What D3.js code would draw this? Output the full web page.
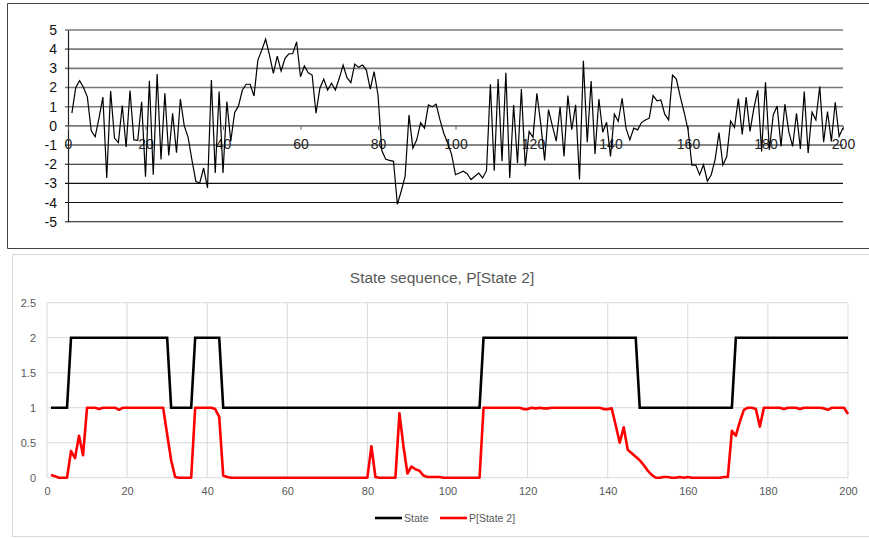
<!DOCTYPE html>
<html>
<head>
<meta charset="utf-8">
<script src="https://cdn.jsdelivr.net/npm/d3@7"></script>
<style>
  body { margin: 0; background: #fff; }
  svg { display: block; }
</style>
</head>
<body>
<svg id="chart" width="869" height="538"></svg>
<script>
"use strict";

// observed series, x = 1..200
const signal = [
  0.66, 2.0, 2.36, 2.0, 1.5, -0.26, -0.57, 0.4, 1.5, -2.72, 1.82, -0.64, -0.87, 1.06, -1.1, 1.84, -0.73, -0.75, 1.25, -2.65,
  2.35, -2.55, 2.7, -1.75, 1.7, -1.55, 0.65, -1.4, 1.4, 0.0, -0.6, -1.8, -2.9, -2.98, -2.2, -3.24, 2.39, -2.46, 1.79, -2.46,
  1.27, -0.81, 0.69, 1.04, 1.87, 2.17, 2.17, 1.56, 3.43, 3.95, 4.52, 3.69, 2.74, 3.64, 2.86, 3.52, 3.76, 3.76, 4.38, 2.56,
  3.12, 2.77, 2.65, 0.66, 1.96, 2.44, 1.87, 2.22, 1.87, 2.48, 3.17, 2.51, 2.25, 3.22, 3.05, 3.17, 2.91, 1.92, 2.83, 1.61,
  -1.3, -1.74, -1.8, -1.85, -4.1, -3.4, -2.63, 0.57, -1.16, -0.73, 0.17, -0.12, 1.09, 1.0, 1.13, 0.31, -0.4, -0.9, -1.5, -2.55,
  -2.46, -2.37, -2.5, -2.8, -2.63, -2.46, -2.72, -2.34, 2.17, -2.34, 2.44, -1.85, 2.77, -2.72, 1.09, -1.94, 1.92, -2.11, -0.29, -0.6,
  1.7, 0.1, -1.8, 0.85, 0.0, -0.8, 1.0, -1.6, 1.58, -0.2, 1.1, -2.8, 3.4, -0.85, 2.34, -1.47, 1.4, -0.33, 0.19, -1.6,
  0.61, 0.23, 1.44, -0.12, -0.73, -0.12, -0.21, 0.17, 0.31, 0.4, 1.58, 1.3, 1.35, 0.61, 0.31, 2.65, 2.44, 1.53, 0.71, -0.2,
  -2.05, -2.05, -2.55, -2.03, -2.89, -2.55, -1.75, -0.35, -2.05, -1.6, 0.25, -0.08, 1.42, -0.45, 1.5, -0.29, 0.92, 1.85, -1.33, 2.27,
  -1.25, 0.57, 1.04, -1.07, 1.13, -0.29, -1.07, 0.66, -1.2, 1.79, -1.42, 0.71, 0.31, 2.05, -0.85, 0.75, -0.81, 1.23, -0.55, -0.1
];

const state = [
  1, 1, 1, 1, 1, 2, 2, 2, 2, 2, 2, 2, 2, 2, 2, 2, 2, 2, 2, 2,
  2, 2, 2, 2, 2, 2, 2, 2, 2, 2, 1, 1, 1, 1, 1, 1, 2, 2, 2, 2,
  2, 2, 2, 1, 1, 1, 1, 1, 1, 1, 1, 1, 1, 1, 1, 1, 1, 1, 1, 1,
  1, 1, 1, 1, 1, 1, 1, 1, 1, 1, 1, 1, 1, 1, 1, 1, 1, 1, 1, 1,
  1, 1, 1, 1, 1, 1, 1, 1, 1, 1, 1, 1, 1, 1, 1, 1, 1, 1, 1, 1,
  1, 1, 1, 1, 1, 1, 1, 1, 2, 2, 2, 2, 2, 2, 2, 2, 2, 2, 2, 2,
  2, 2, 2, 2, 2, 2, 2, 2, 2, 2, 2, 2, 2, 2, 2, 2, 2, 2, 2, 2,
  2, 2, 2, 2, 2, 2, 2, 1, 1, 1, 1, 1, 1, 1, 1, 1, 1, 1, 1, 1,
  1, 1, 1, 1, 1, 1, 1, 1, 1, 1, 1, 2, 2, 2, 2, 2, 2, 2, 2, 2,
  2, 2, 2, 2, 2, 2, 2, 2, 2, 2, 2, 2, 2, 2, 2, 2, 2, 2, 2, 2
];

const pState2 = [
  0.04, 0.02, 0, 0, 0, 0.38, 0.28, 0.6, 0.32, 1, 1, 1, 0.98, 1, 1, 1, 1, 0.97, 1, 1,
  1, 1, 1, 1, 1, 1, 1, 1, 1, 0.62, 0.25, 0.01, 0, 0, 0, 0, 1, 1, 1, 1,
  1, 0.98, 0.87, 0.03, 0.01, 0, 0, 0, 0, 0, 0, 0, 0, 0, 0, 0, 0, 0, 0, 0,
  0, 0, 0, 0, 0, 0, 0, 0, 0, 0, 0, 0, 0, 0, 0, 0, 0, 0, 0, 0,
  0.45, 0.01, 0, 0, 0, 0, 0, 0.92, 0.45, 0.06, 0.16, 0.12, 0.1, 0.03, 0.01, 0.01, 0.01, 0.01, 0, 0,
  0, 0, 0, 0, 0, 0, 0, 0, 1, 1, 1, 1, 1, 1, 1, 1, 1, 1, 0.98, 0.98,
  1, 0.99, 1, 0.99, 0.99, 1, 1, 1, 1, 1, 1, 1, 1, 1, 1, 1, 1, 1, 0.98, 0.98,
  0.99, 0.75, 0.5, 0.72, 0.4, 0.35, 0.3, 0.25, 0.18, 0.1, 0.04, 0, 0, 0.01, 0.01, 0, 0, 0.01, 0, 0.01,
  0, 0, 0, 0, 0, 0, 0, 0, 0.01, 0.01, 0.67, 0.6, 0.8, 0.97, 1, 1, 0.98, 0.73, 1, 1,
  1, 1, 1, 0.98, 1, 1, 1, 0.98, 1, 1, 1, 1, 1, 0.99, 0.97, 1, 1, 1, 1, 0.91
];

const topYTicks = [-5, -4, -3, -2, -1, 0, 1, 2, 3, 4, 5];
const xTicks = [0, 20, 40, 60, 80, 100, 120, 140, 160, 180, 200];
const bottomYTicks = [0, 0.5, 1, 1.5, 2, 2.5];
const chartTitle = "State sequence, P[State 2]";
const legendNames = ["State", "P[State 2]"];

const svg = d3.select("#chart");
const fmt = d => String(d);

function drawTop() {
    const g = svg.append("g");
    const x = d3.scaleLinear().domain([0, 200]).range([68, 843]);
    const y = d3.scaleLinear().domain([-5, 5]).range([221.7, 30]);

    // frame of the first chart (runs off the right edge)
    g.append("path")
        .attr("d", "M875,3.5H7.5V248.5H875")
        .attr("fill", "none")
        .attr("stroke", "#444")
        .attr("stroke-width", 1);

    g.selectAll(".grid")
        .data(topYTicks)
        .enter()
        .append("line")
        .attr("x1", x(0) - 3)
        .attr("x2", x(200))
        .attr("y1", d => y(d))
        .attr("y2", d => y(d))
        .attr("stroke", d => d >= 0 ? "#7a7a7a" : "#111")
        .attr("stroke-width", d => d >= 0 ? 1.6 : 1.1);

    // y axis
    const yAxis = g.append("g")
        .attr("transform", `translate(${x(0)},0)`)
        .call(d3.axisLeft(y).tickValues(topYTicks).tickSize(0).tickPadding(11).tickFormat(fmt));
    yAxis.select(".domain").attr("stroke", "#222").attr("stroke-width", 1.2);
    yAxis.selectAll("text")
        .attr("font-family", "Liberation Sans, Arial, sans-serif")
        .attr("font-size", 14)
        .attr("fill", "#111");

    // x axis crosses at zero
    const xAxis = g.append("g")
        .attr("transform", `translate(0,${y(0)})`)
        .call(d3.axisBottom(x).tickValues(xTicks).tickSize(4).tickPadding(9).tickFormat(fmt));
    xAxis.select(".domain").remove();
    xAxis.selectAll("line").attr("stroke", "#666");
    xAxis.selectAll("text")
        .attr("font-family", "Liberation Sans, Arial, sans-serif")
        .attr("font-size", 14)
        .attr("fill", "#222");

    const line = d3.line()
        .x((d, i) => x(i + 1))
        .y(d => y(d));

    g.append("path")
        .datum(signal)
        .attr("d", line)
        .attr("fill", "none")
        .attr("stroke", "#000")
        .attr("stroke-width", 1.2)
        .attr("stroke-linejoin", "miter");
}

function drawBottom() {
    const g = svg.append("g");
    const x = d3.scaleLinear().domain([0, 200]).range([47, 848]);
    const y = d3.scaleLinear().domain([0, 2.5]).range([477.7, 302.7]);
    const font = "Liberation Sans, Arial, sans-serif";

    g.append("path")
        .attr("d", "M875,254.5H12.5V536.5H875")
        .attr("fill", "none")
        .attr("stroke", "#d9d9d9")
        .attr("stroke-width", 1);

    g.append("text")
        .attr("x", 442)
        .attr("y", 283)
        .attr("text-anchor", "middle")
        .attr("font-family", font)
        .attr("font-size", 15.5)
        .attr("fill", "#595959")
        .text(chartTitle);

    g.selectAll(".hgrid")
        .data(bottomYTicks)
        .enter()
        .append("line")
        .attr("x1", x(0))
        .attr("x2", x(200))
        .attr("y1", d => y(d))
        .attr("y2", d => y(d))
        .attr("stroke", "#d9d9d9")
        .attr("stroke-width", 1);

    g.selectAll(".vgrid")
        .data(xTicks)
        .enter()
        .append("line")
        .attr("x1", d => x(d))
        .attr("x2", d => x(d))
        .attr("y1", y(0))
        .attr("y2", y(2.5))
        .attr("stroke", "#d9d9d9")
        .attr("stroke-width", 1);

    const yAxis = g.append("g")
        .attr("transform", `translate(${x(0)},0)`)
        .call(d3.axisLeft(y).tickValues(bottomYTicks).tickSize(0).tickPadding(11).tickFormat(fmt));
    yAxis.select(".domain").remove();
    yAxis.selectAll("text")
        .attr("font-family", font)
        .attr("font-size", 11)
        .attr("fill", "#595959");

    const xAxis = g.append("g")
        .attr("transform", `translate(0,${y(0)})`)
        .call(d3.axisBottom(x).tickValues(xTicks).tickSize(0).tickPadding(10).tickFormat(fmt));
    xAxis.select(".domain").remove();
    xAxis.selectAll("text")
        .attr("font-family", font)
        .attr("font-size", 11)
        .attr("fill", "#595959");

    const line = d3.line()
        .x((d, i) => x(i + 1))
        .y(d => y(d));

    g.append("path")
        .datum(state)
        .attr("d", line)
        .attr("fill", "none")
        .attr("stroke", "#000")
        .attr("stroke-width", 2.6);

    g.append("path")
        .datum(pState2)
        .attr("d", line)
        .attr("fill", "none")
        .attr("stroke", "#ff0000")
        .attr("stroke-width", 2.6)
        .attr("stroke-linejoin", "round");

    // legend
    const legendColors = ["#000", "#ff0000"];
    const legendX = [375, 440];
    const leg = g.selectAll(".legend")
        .data(legendNames)
        .enter()
        .append("g")
        .attr("transform", (d, i) => `translate(${legendX[i]},518)`);
    leg.append("line")
        .attr("x1", 0)
        .attr("x2", 27)
        .attr("stroke", (d, i) => legendColors[i])
        .attr("stroke-width", 2.6);
    leg.append("text")
        .attr("x", 29)
        .attr("y", 4)
        .attr("font-family", font)
        .attr("font-size", 10.5)
        .attr("fill", "#595959")
        .text(d => d);
}

drawTop();
drawBottom();
</script>
</body>
</html>
